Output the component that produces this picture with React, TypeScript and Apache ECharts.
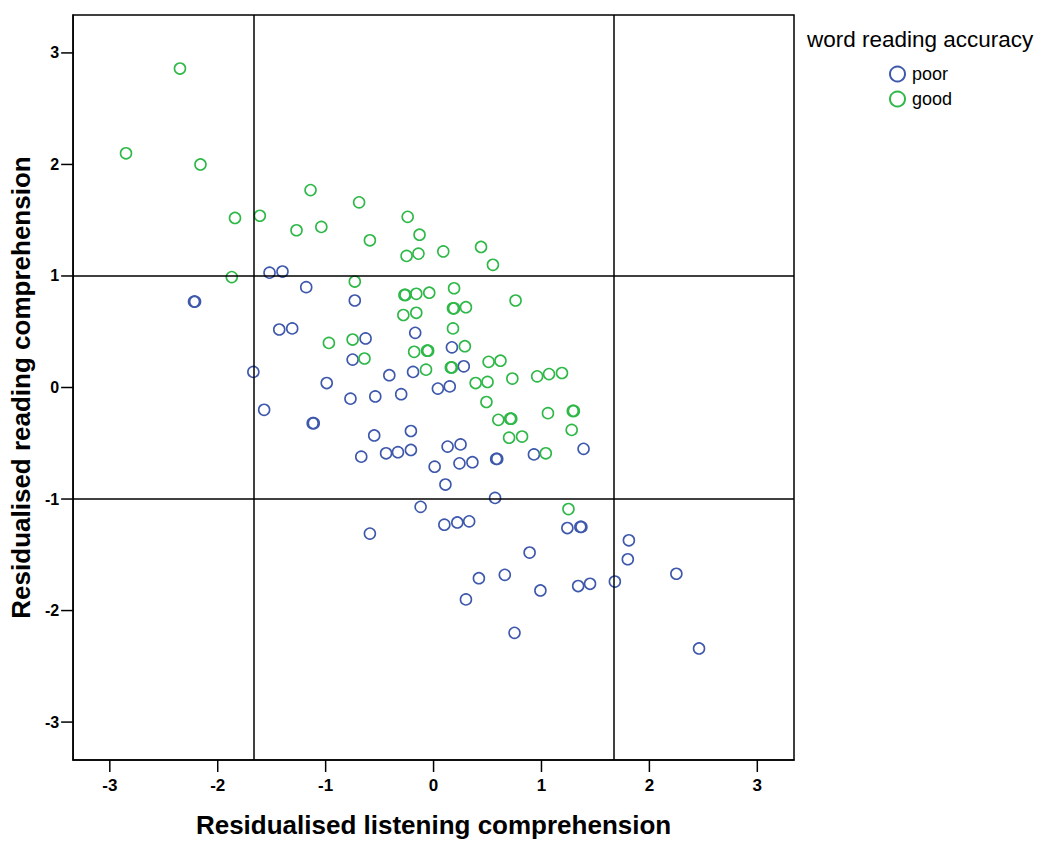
import React, { useEffect, useRef } from "react";
import * as echarts from "echarts";

const tickValues = [-3, -2, -1, 0, 1, 2, 3];
const xTitle = "Residualised listening comprehension";
const yTitle = "Residualised reading comprehension";
const legendTitle = "word reading accuracy";
const groupNames = ["poor", "good"];
const verticalRefs = [-1.67, 1.67];
const horizontalRefs = [-1, 1];
const axisMin = -3.34;
const axisMax = 3.34;

const poorPoints: [number, number][] = [
  [-1.52, 1.03], [-1.40, 1.04], [-1.18, 0.90], [-0.73, 0.78], [-2.22, 0.77], [-2.21, 0.77],
  [-1.43, 0.52], [-1.31, 0.53], [-0.63, 0.44], [-0.17, 0.49], [-0.75, 0.25], [0.17, 0.36],
  [0.28, 0.19], [-1.67, 0.14], [-0.99, 0.04], [-0.41, 0.11], [-0.19, 0.14], [0.04, -0.01],
  [0.15, 0.01], [-0.77, -0.10], [-0.54, -0.08], [-0.30, -0.06], [-1.57, -0.20], [-1.12, -0.32],
  [-1.11, -0.32], [-0.55, -0.43], [-0.21, -0.39], [-0.67, -0.62], [-0.44, -0.59], [-0.33, -0.58],
  [-0.21, -0.56], [0.13, -0.53], [0.25, -0.51], [0.01, -0.71], [0.24, -0.68], [0.36, -0.67],
  [0.58, -0.64], [0.59, -0.64], [0.93, -0.60], [1.39, -0.55], [0.11, -0.87], [0.57, -0.99],
  [-0.12, -1.07], [0.10, -1.23], [0.22, -1.21], [0.33, -1.20], [-0.59, -1.31], [1.24, -1.26],
  [1.36, -1.25], [1.37, -1.25], [0.89, -1.48], [1.81, -1.37], [1.80, -1.54], [0.42, -1.71],
  [0.66, -1.68], [0.99, -1.82], [1.34, -1.78], [1.45, -1.76], [1.68, -1.74], [2.25, -1.67],
  [0.30, -1.90], [0.75, -2.20], [2.46, -2.34],
];

const goodPoints: [number, number][] = [
  [-2.35, 2.86], [-2.85, 2.10], [-2.16, 2.00], [-1.84, 1.52], [-1.61, 1.54], [-1.87, 0.99],
  [-1.27, 1.41], [-1.04, 1.44], [-1.14, 1.77], [-0.69, 1.66], [-0.59, 1.32], [-0.24, 1.53],
  [-0.13, 1.37], [-0.25, 1.18], [-0.14, 1.20], [0.09, 1.22], [0.44, 1.26], [0.55, 1.10],
  [-0.73, 0.95], [-0.27, 0.83], [-0.26, 0.83], [-0.16, 0.84], [-0.04, 0.85], [0.19, 0.89],
  [0.76, 0.78], [-0.28, 0.65], [-0.16, 0.67], [0.18, 0.71], [0.19, 0.71], [0.30, 0.72],
  [0.18, 0.53], [-0.97, 0.40], [-0.75, 0.43], [-0.64, 0.26], [-0.18, 0.32], [-0.06, 0.33],
  [-0.05, 0.33], [0.29, 0.37], [0.16, 0.18], [0.17, 0.18], [-0.07, 0.16], [0.51, 0.23],
  [0.62, 0.24], [0.39, 0.04], [0.50, 0.05], [0.73, 0.08], [0.96, 0.10], [1.07, 0.12],
  [1.19, 0.13], [0.49, -0.13], [0.60, -0.29], [0.71, -0.28], [0.72, -0.28], [1.06, -0.23],
  [1.29, -0.21], [1.30, -0.21], [0.70, -0.45], [0.82, -0.44], [1.28, -0.38], [1.04, -0.59],
  [1.25, -1.09],
];

const FONT = "'Liberation Sans', Arial, sans-serif";
const BLUE = "#3E58AC";
const GREEN = "#2EB848";
const TICK_LEN = 12;

export default function App() {
  const ref = useRef<HTMLDivElement>(null);
  useEffect(() => {
    if (!ref.current) return;
    const chart = echarts.init(ref.current, null, { renderer: "svg" });
    const axisCommon = {
      type: "value" as const,
      min: axisMin,
      max: axisMax,
      splitLine: { show: false },
      axisTick: { show: false },
      axisLine: { show: true, onZero: false, lineStyle: { color: "#000", width: 1.5 } },
      nameLocation: "middle" as const,
      nameTextStyle: { fontFamily: FONT, fontWeight: "bold" as const, fontSize: 26, color: "#000" },
    };
    const tickLineStyle = { stroke: "#000", lineWidth: 1.5 };
    chart.setOption({
      animation: false,
      backgroundColor: "#fff",
      grid: {
        left: 72,
        top: 15,
        width: 722,
        height: 748,
        show: true,
        borderColor: "#000",
        borderWidth: 1.5,
        backgroundColor: "transparent",
      },
      xAxis: {
        ...axisCommon,
        name: xTitle,
        nameGap: 52,
        axisLabel: {
          customValues: tickValues,
          margin: 17,
          fontFamily: FONT,
          fontWeight: "bold",
          fontSize: 17,
          color: "#000",
        },
      },
      yAxis: {
        ...axisCommon,
        name: yTitle,
        nameGap: 34,
        axisLabel: {
          customValues: tickValues,
          margin: 14,
          fontFamily: FONT,
          fontWeight: "bold",
          fontSize: 16,
          color: "#000",
        },
      },
      legend: {
        orient: "vertical",
        left: 884,
        top: 60,
        itemWidth: 15,
        itemHeight: 15,
        itemGap: 7,
        textStyle: { fontFamily: FONT, fontSize: 18, color: "#000", padding: [0, 0, 0, 2] },
        data: groupNames,
      },
      graphic: [
        {
          type: "text",
          left: 807,
          top: 28,
          style: { text: legendTitle, fontFamily: FONT, fontSize: 22.5, fill: "#000" },
        },
      ],
      series: [
        {
          name: groupNames[0],
          type: "scatter",
          symbol: "circle",
          symbolSize: 11,
          itemStyle: { color: "rgba(255,255,255,0)", borderColor: BLUE, borderWidth: 1.6, opacity: 1 },
          data: poorPoints,
          markLine: {
            silent: true,
            symbol: "none",
            label: { show: false },
            lineStyle: { color: "#000", width: 1.5, type: "solid" },
            data: [
              ...verticalRefs.map((v) => ({ xAxis: v })),
              ...horizontalRefs.map((v) => ({ yAxis: v })),
            ],
          },
        },
        {
          name: groupNames[1],
          type: "scatter",
          symbol: "circle",
          symbolSize: 11,
          itemStyle: { color: "rgba(255,255,255,0)", borderColor: GREEN, borderWidth: 1.6, opacity: 1 },
          data: goodPoints,
        },
        {
          name: "xTicks",
          type: "custom",
          silent: true,
          clip: false,
          z: 10,
          data: tickValues.map((v) => [v, axisMin]),
          renderItem: (params: any, api: any) => {
            const p = api.coord([api.value(0), api.value(1)]);
            return {
              type: "line",
              shape: { x1: p[0], y1: p[1], x2: p[0], y2: p[1] + TICK_LEN },
              style: tickLineStyle,
            };
          },
        },
        {
          name: "yTicks",
          type: "custom",
          silent: true,
          clip: false,
          z: 10,
          data: tickValues.map((v) => [axisMin, v]),
          renderItem: (params: any, api: any) => {
            const p = api.coord([api.value(0), api.value(1)]);
            return {
              type: "line",
              shape: { x1: p[0] - TICK_LEN, y1: p[1], x2: p[0], y2: p[1] },
              style: tickLineStyle,
            };
          },
        },
      ],
    });
    return () => chart.dispose();
  }, []);
  return (
    <div
      ref={ref}
      style={{ position: "fixed", left: 0, top: 0, width: 1037, height: 843, background: "#fff" }}
    />
  );
}
